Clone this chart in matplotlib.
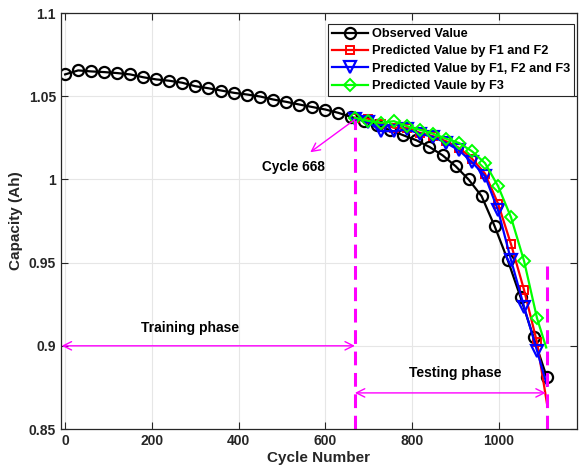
import matplotlib.pyplot as plt
from matplotlib.ticker import FuncFormatter

plt.rcParams['font.family'] = ['Liberation Sans', 'DejaVu Sans']
plt.rcParams['font.weight'] = 'bold'

# Observed capacity (marker every 30 cycles)
obs_cycles = list(range(0, 1111, 30))
obs_values = [1.0631, 1.0655, 1.0649, 1.0645, 1.0639, 1.0631, 1.0614, 1.0601,
              1.0593, 1.0581, 1.0560, 1.0548, 1.0534, 1.0520, 1.0510, 1.0498,
              1.0480, 1.0466, 1.0450, 1.0435, 1.0420, 1.0400, 1.0375, 1.0350,
              1.0325, 1.0295, 1.0265, 1.0235, 1.0195, 1.0145, 1.0080, 1.0000,
              0.9900, 0.9720, 0.9518, 0.9291, 0.9050, 0.8815]

# Predictions start at cycle 668, last point is the line end (no marker)
pred_cycles = [668, 698, 728, 758, 788, 818, 848, 878, 908, 938, 968, 998,
               1028, 1058, 1088, 1111]
pred_f12 = [1.0370, 1.0365, 1.0335, 1.0310, 1.0310, 1.0280, 1.0260, 1.0230,
            1.0190, 1.0125, 1.0035, 0.9855, 0.9610, 0.9336, 0.9020, 0.8650]
pred_f123 = [1.0365, 1.0346, 1.0290, 1.0290, 1.0300, 1.0275, 1.0255, 1.0220,
             1.0175, 1.0104, 1.0020, 0.9815, 0.9515, 0.9235, 0.8970, 0.8760]
pred_f3_cycles = [668, 698, 728, 758, 788, 818, 848, 878, 908, 938, 968, 998,
                  1028, 1058, 1088, 1109]
pred_f3 = [1.0370, 1.0352, 1.0340, 1.0350, 1.0320, 1.0298, 1.0275, 1.0245,
           1.0219, 1.0169, 1.0098, 0.9960, 0.9772, 0.9510, 0.9165, 0.8990]

start_cycle = 668
end_cycle = 1112

fig = plt.figure(figsize=(5.79, 4.73), dpi=100)
ax = fig.add_axes([0.105, 0.093, 0.8915, 0.8795])

ax.plot(obs_cycles, obs_values, '-o', color='k', lw=1.6, ms=8, mfc='none',
        mew=1.6, label='Observed Value')
mk = list(range(len(pred_cycles) - 1))
ax.plot(pred_cycles, pred_f12, '-s', color='r', lw=1.6, ms=6, mfc='none',
        mew=1.4, markevery=mk, label='Predicted Value by F1 and F2')
ax.plot(pred_cycles, pred_f123, '-v', color='b', lw=1.6, ms=8, mfc='none',
        mew=1.6, markevery=mk, label='Predicted Value by F1, F2 and F3')
ax.plot(pred_f3_cycles, pred_f3, '-D', color=(0, 1, 0), lw=1.6, ms=6, mfc='none',
        mew=1.4, markevery=mk, label='Predicted Vaule by F3')

# phase markers
mag = (1, 0, 1)
ax.plot([start_cycle, start_cycle], [0.85, 1.036], '--', color=mag, lw=2.2,
        dashes=(4.5, 2.5))
ax.plot([end_cycle, end_cycle], [0.85, 0.948], '--', color=mag, lw=2.2,
        dashes=(4.5, 2.5))

arr = dict(arrowstyle='<->,head_length=0.6,head_width=0.3', color=mag, lw=1.0,
           shrinkA=0, shrinkB=0)
ax.annotate('', xy=(-8, 0.9), xytext=(start_cycle, 0.9), arrowprops=arr)
ax.annotate('', xy=(start_cycle, 0.8717), xytext=(1108, 0.8717), arrowprops=arr)
ax.annotate('', xy=(565, 1.0163), xytext=(start_cycle, 1.036),
            arrowprops=dict(arrowstyle='->,head_length=0.6,head_width=0.3',
                            color=mag, lw=1.0, shrinkA=0, shrinkB=0))

ax.text(288, 0.9108, 'Training phase', ha='center', va='center',
        fontsize=10, fontweight='bold')
ax.text(900, 0.8837, 'Testing phase', ha='center', va='center',
        fontsize=10, fontweight='bold')
ax.text(526, 1.0072, 'Cycle 668', ha='center', va='center',
        fontsize=9.8, fontweight='bold')

ax.set_xlim(-10, 1180)
ax.set_ylim(0.85, 1.1)
ax.set_xticks([0, 200, 400, 600, 800, 1000])
ax.set_yticks([0.85, 0.9, 0.95, 1.0, 1.05, 1.1])
ax.yaxis.set_major_formatter(FuncFormatter(lambda v, p: '%g' % round(v, 2)))
ax.tick_params(direction='in', top=True, right=True, labelsize=10,
               colors='#262626', length=5, width=0.8)
for lab in ax.get_xticklabels() + ax.get_yticklabels():
    lab.set_fontweight('bold')
ax.grid(True, color='#e6e6e6', lw=0.8)
ax.set_axisbelow(True)
for sp in ax.spines.values():
    sp.set_color('#262626')
    sp.set_linewidth(0.9)

ax.set_xlabel('Cycle Number', fontsize=11, fontweight='bold', color='#262626',
              labelpad=2)
ax.set_ylabel('Capacity (Ah)', fontsize=11, fontweight='bold', color='#262626',
              labelpad=4)

leg = ax.legend(loc='upper right', bbox_to_anchor=(0.9935, 0.973),
                prop={'weight': 'bold', 'size': 9.2}, fancybox=False,
                framealpha=1, edgecolor='#262626', handlelength=2.8,
                labelspacing=0.42, borderpad=0.3, handletextpad=0.3,
                borderaxespad=0)
leg.get_frame().set_linewidth(0.8)

fig.savefig('out.png', dpi=100)
